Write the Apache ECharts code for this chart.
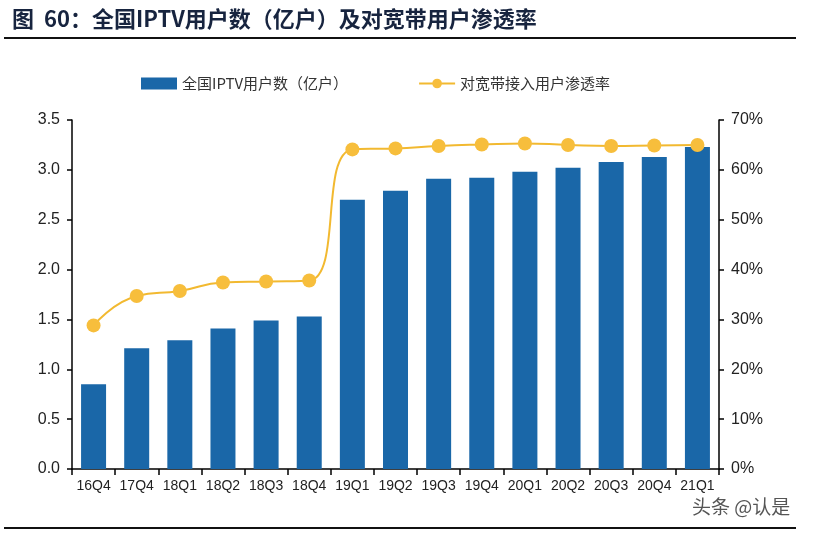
<!DOCTYPE html>
<html>
<head>
<meta charset="utf-8">
<script src="https://cdn.jsdelivr.net/npm/echarts@6/dist/echarts.min.js"></script>
<style>
  html, body { margin: 0; padding: 0; background: #fff; }
  #chart { width: 816px; height: 536px; }
</style>
</head>
<body>
<div id="chart"></div>
<script>
var categories = ['16Q4', '17Q4', '18Q1', '18Q2', '18Q3', '18Q4', '19Q1', '19Q2', '19Q3', '19Q4', '20Q1', '20Q2', '20Q3', '20Q4', '21Q1']
var iptvUsers = [0.85, 1.21, 1.29, 1.41, 1.49, 1.53, 2.70, 2.79, 2.91, 2.92, 2.98, 3.02, 3.08, 3.13, 3.23]
var penetration = [28.8, 34.7, 35.7, 37.4, 37.6, 37.8, 64.1, 64.3, 64.8, 65.1, 65.3, 65.0, 64.8, 64.9, 65.0]
var leftTicks = ['0.0', '0.5', '1.0', '1.5', '2.0', '2.5', '3.0', '3.5']

var chart = echarts.init(document.getElementById('chart'))
var option = {
  backgroundColor: '#fff',
  animation: false,
  textStyle: { fontFamily: 'Liberation Sans, Arial, sans-serif' },
  graphic: [
    {
      type: 'text', left: 12, top: 8,
      style: {
        text: '图  60：全国IPTV用户数（亿户）及对宽带用户渗透率',
        fill: '#17243f', fontSize: 22, fontWeight: 'bold',
        fontFamily: 'Noto Sans CJK SC, sans-serif'
      }
    },
    { type: 'rect', shape: { x: 4, y: 37, width: 792, height: 2 }, style: { fill: '#111' } },
    { type: 'rect', shape: { x: 4, y: 527, width: 792, height: 2 }, style: { fill: '#111' } },
    {
      type: 'text', left: 692, top: 497,
      style: {
        text: '头条 @认是', fill: '#555', fontSize: 19,
        fontFamily: 'Noto Sans CJK SC, sans-serif'
      }
    }
  ],
  legend: {
    top: 71,
    left: 136,
    itemGap: 70,
    itemWidth: 36,
    itemHeight: 12,
    textStyle: { color: '#333', fontSize: 15, fontFamily: 'Noto Sans CJK SC, sans-serif' },
    data: [
      { name: '全国IPTV用户数（亿户）', icon: 'rect' },
      { name: '对宽带接入用户渗透率' }
    ]
  },
  grid: { left: 72, right: 97, top: 120, bottom: 67 },
  xAxis: {
    type: 'category',
    data: categories,
    axisLine: { lineStyle: { color: '#000', width: 1.5 } },
    axisTick: { show: true, length: 6, lineStyle: { color: '#000', width: 1.5 } },
    axisLabel: { color: '#222', fontSize: 14, interval: 0, margin: 10 }
  },
  yAxis: [
    {
      type: 'value', min: 0, max: 3.5, interval: 0.5,
      splitLine: { show: false },
      axisLine: { show: true, lineStyle: { color: '#000', width: 1.5 } },
      axisTick: { show: true, length: 5, lineStyle: { color: '#000', width: 1.5 } },
      axisLabel: {
        color: '#222', fontSize: 16, margin: 12,
        formatter: function (v) { return leftTicks[Math.round(v / 0.5)] }
      }
    },
    {
      type: 'value', min: 0, max: 70, interval: 10,
      splitLine: { show: false },
      axisLine: { show: true, lineStyle: { color: '#000', width: 1.5 } },
      axisTick: { show: true, length: 5, lineStyle: { color: '#000', width: 1.5 } },
      axisLabel: { color: '#222', fontSize: 16, margin: 12, formatter: '{value}%' }
    }
  ],
  series: [
    {
      name: '全国IPTV用户数（亿户）',
      type: 'bar',
      data: iptvUsers,
      barWidth: 25,
      itemStyle: { color: '#1a67a8' }
    },
    {
      name: '对宽带接入用户渗透率',
      type: 'line',
      yAxisIndex: 1,
      data: penetration,
      smooth: 0.5,
      symbol: 'circle',
      symbolSize: 14,
      itemStyle: { color: '#f7be3c' },
      lineStyle: { color: '#f2b930', width: 2 }
    }
  ]
}
chart.setOption(option)
</script>
</body>
</html>
